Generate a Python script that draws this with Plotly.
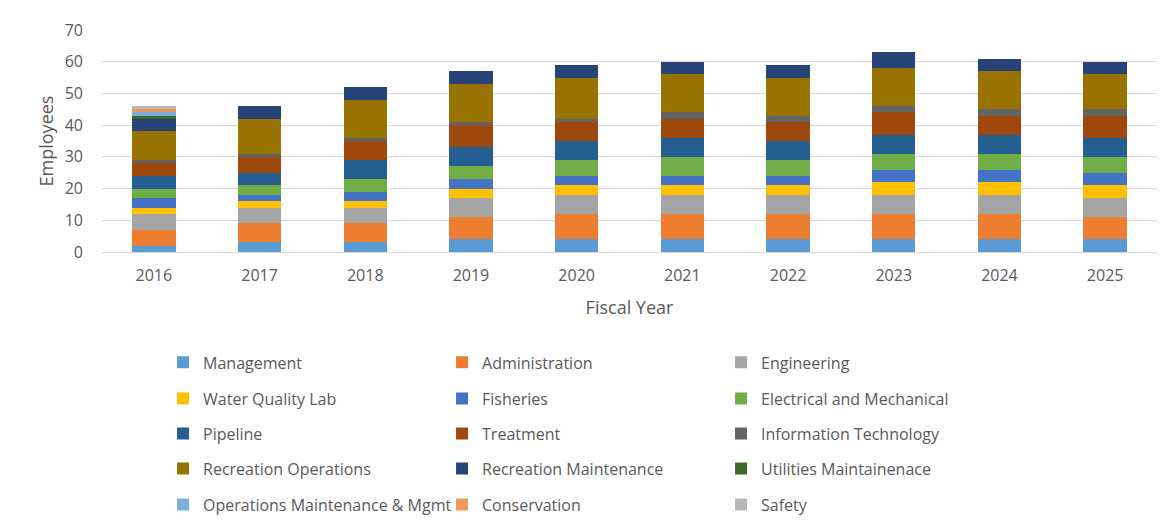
import plotly.graph_objects as go

years = ["2016", "2017", "2018", "2019", "2020", "2021", "2022", "2023", "2024", "2025"]

management = [2, 3, 3, 4, 4, 4, 4, 4, 4, 4]
administration = [5, 6, 6, 7, 8, 8, 8, 8, 8, 7]
engineering = [5, 5, 5, 6, 6, 6, 6, 6, 6, 6]
water_quality_lab = [2, 2, 2, 3, 3, 3, 3, 4, 4, 4]
fisheries = [3, 2, 3, 3, 3, 3, 3, 4, 4, 4]
electrical_mechanical = [3, 3, 4, 4, 5, 6, 5, 5, 5, 5]
pipeline = [4, 4, 6, 6, 6, 6, 6, 6, 6, 6]
treatment = [4, 5, 6, 7, 6, 6, 6, 7, 6, 7]
information_technology = [1, 1, 1, 1, 1, 2, 2, 2, 2, 2]
recreation_operations = [9, 11, 12, 12, 13, 12, 12, 12, 12, 11]
recreation_maintenance = [4, 4, 4, 4, 4, 4, 4, 5, 4, 4]
utilities_maintenance = [1, 0, 0, 0, 0, 0, 0, 0, 0, 0]
ops_maintenance_mgmt = [1, 0, 0, 0, 0, 0, 0, 0, 0, 0]
conservation = [1, 0, 0, 0, 0, 0, 0, 0, 0, 0]
safety = [1, 0, 0, 0, 0, 0, 0, 0, 0, 0]

series = [
    ("Management", management, "#5B9BD5"),
    ("Administration", administration, "#ED7D31"),
    ("Engineering", engineering, "#A5A5A5"),
    ("Water Quality Lab", water_quality_lab, "#FFC000"),
    ("Fisheries", fisheries, "#4472C4"),
    ("Electrical and Mechanical", electrical_mechanical, "#70AD47"),
    ("Pipeline", pipeline, "#255E91"),
    ("Treatment", treatment, "#9E480E"),
    ("Information Technology", information_technology, "#636363"),
    ("Recreation Operations", recreation_operations, "#997300"),
    ("Recreation Maintenance", recreation_maintenance, "#264478"),
    ("Utilities Maintainenace", utilities_maintenance, "#43682B"),
    ("Operations Maintenance & Mgmt", ops_maintenance_mgmt, "#7CAFDD"),
    ("Conservation", conservation, "#F1975A"),
    ("Safety", safety, "#B7B7B7"),
]

FONT = "Open Sans"
GREY = "#595959"

fig = go.Figure()
legend_ids = ["legend", "legend2", "legend3", "legend4", "legend5"]
for i, (name, vals, color) in enumerate(series):
    fig.add_trace(go.Bar(
        x=years, y=vals, name=name,
        marker=dict(color=color, line=dict(width=0)),
        legend=legend_ids[i // 3],
    ))

# one legend per row so the row spacing can match the reference
row_y = [-0.4975, -0.66, -0.818, -0.976, -1.138]
legend_layout = {}
for lid, yy in zip(legend_ids, row_y):
    legend_layout[lid] = dict(
        orientation="h", x=0.0587, xanchor="left", y=yy, yanchor="middle",
        entrywidth=234, entrywidthmode="pixels", traceorder="normal",
        font=dict(family=FONT, size=16, color=GREY),
        bgcolor="rgba(0,0,0,0)",
    )

fig.update_layout(
    barmode="stack",
    bargap=0.59,
    width=1165, height=527,
    margin=dict(l=93, r=15, t=22, b=283, autoexpand=False),
    plot_bgcolor="white", paper_bgcolor="white",
    font=dict(family=FONT, size=16, color=GREY),
    xaxis=dict(
        title=dict(text="Fiscal Year", font=dict(size=18, color=GREY), standoff=16),
        showline=True, linecolor="#D9D9D9", linewidth=1,
        ticks="", ticklabelstandoff=9,
    ),
    yaxis=dict(
        title=dict(text="Employees", font=dict(size=18, color=GREY), standoff=6),
        range=[0, 70], dtick=10,
        showgrid=True, gridcolor="#D9D9D9", gridwidth=1,
        zeroline=False, ticks="", ticklabelstandoff=17,
    ),
    **legend_layout,
)

fig.write_html("out.html")
